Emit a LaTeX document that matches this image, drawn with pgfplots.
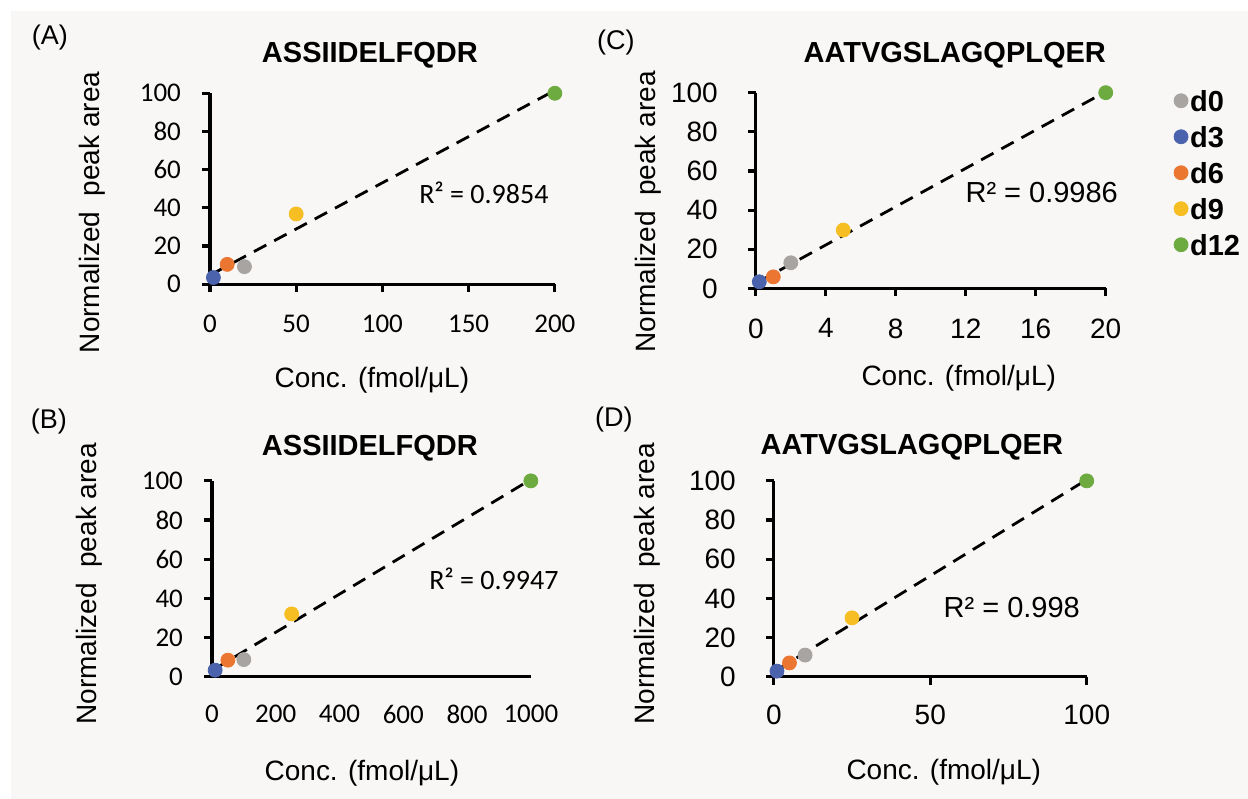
\documentclass[border=0pt]{standalone}
\usepackage{fontspec}
\setmainfont{Liberation Sans}
\newfontfamily\calibri{Carlito}
\usepackage{pgfplots}
\pgfplotsset{compat=1.18}
\definecolor{bg}{HTML}{F8F7F5}
\definecolor{cgray}{HTML}{A7A4A1}
\definecolor{cblue}{HTML}{4B63AC}
\definecolor{corange}{HTML}{EB7631}
\definecolor{cyellow}{HTML}{F6BE22}
\definecolor{cgreen}{HTML}{6DAA40}
\tikzset{tk/.style={black, line width=1.6pt}}
\pgfplotsset{
  every tick/.style={black, line width=1.6pt},
  every axis x line/.append style={line width=1.6pt},
  every axis y line/.append style={line width=1.6pt},
  panel/.style={
    scale only axis, anchor=south west,
    axis lines=left,
    xmin=0, ymin=0, ymax=100, ytick={0,20,...,100},
    clip=false,
    /pgf/number format/assume math mode=true,
    /pgf/number format/1000 sep={},
    yticklabel style={xshift=-7pt},
    axis line style={-, line width=1.6pt, black}, tick style={black, line width=1.6pt},
    major tick length=4pt, tick align=outside,
  },
  calib/.style={ticklabel style={font=\calibri\fontsize{13.5}{15}\selectfont}},
  arial/.style={ticklabel style={font=\fontsize{14}{16}\selectfont}},
  pt/.style={only marks, mark=*, mark size=3.5pt, mark options={fill=#1, draw=#1}, color=#1},
  trend/.style={black, line width=1.4pt, dash pattern=on 7pt off 4.5pt},
}
\newcommand\lab{\fontsize{14}{16}\selectfont}
\newcommand\ttl{\bfseries\fontsize{14.5}{17}\selectfont}
\newcommand\yl{Normalized\hspace{0.55em}peak area}
\newcommand\xl{Conc. (fmol/μL)}
\begin{document}
\begin{tikzpicture}
\fill[white] (0pt,0pt) rectangle (624pt,399.5pt);
\fill[bg] (5.5pt,0pt) rectangle (624pt,394pt);
% Panel A
\begin{axis}[panel, calib, at={(105pt,257.35pt)}, width=172.5pt, height=95.5pt,
  xmax=200, xtick={0,50,...,200}, xticklabel style={yshift=-8pt}]
\addplot[pt=cblue] coordinates {(2,3.5)};
\addplot[pt=corange] coordinates {(10,10.4)};
\addplot[pt=cgray] coordinates {(20,9.2)};
\addplot[pt=cyellow] coordinates {(50,36.8)};
\addplot[pt=cgreen] coordinates {(200,100)};
\addplot[trend] coordinates {(2,5.7) (200,101.5)};
\pgfplotsinvokeforeach{0,50,100,150,200}{\draw[tk] (axis cs:#1,0) -- ++(0pt,-4pt);}
\pgfplotsinvokeforeach{0,20,40,60,80,100}{\draw[tk] (axis cs:0,#1) -- ++(-4pt,0pt);}
\end{axis}
% Panel C
\begin{axis}[panel, arial, at={(378pt,255.25pt)}, width=175pt, height=97.9pt,
  xmax=20, xtick={0,4,...,20}, yticklabel style={xshift=-4.5pt},
  xticklabel style={yshift=-7.5pt},
  legend style={draw=none, fill=none, at={(1.177,1.045)}, anchor=north west,
    font=\bfseries\fontsize{14.5}{17}\selectfont, row sep=5.5pt,
    nodes={inner sep=1pt, text height=10.5pt, text depth=0pt}},
  legend cell align=left]
\addplot[pt=cgray] coordinates {(2,13.1)}; \addlegendentry{d0}
\addplot[pt=cblue] coordinates {(0.2,3.4)}; \addlegendentry{d3}
\addplot[pt=corange] coordinates {(1,5.9)}; \addlegendentry{d6}
\addplot[pt=cyellow] coordinates {(5,29.8)}; \addlegendentry{d9}
\addplot[pt=cgreen] coordinates {(20,100)}; \addlegendentry{d12}
\addplot[trend, forget plot] coordinates {(0.2,3.6) (20,100.5)};
\pgfplotsinvokeforeach{0,4,8,12,16,20}{\draw[tk] (axis cs:#1,0) -- ++(0pt,-4pt);}
\pgfplotsinvokeforeach{0,20,40,60,80,100}{\draw[tk] (axis cs:0,#1) -- ++(-4pt,0pt);}
\end{axis}
% Panel B
\begin{axis}[panel, calib, at={(106pt,61pt)}, width=159.5pt, height=98pt,
  xmax=1000, xtick={0,200,...,1000}, xticklabel style={yshift=-6.5pt},
  xtick style={draw=none}]
\addplot[pt=cblue] coordinates {(10,3.4)};
\addplot[pt=corange] coordinates {(50,8.5)};
\addplot[pt=cgray] coordinates {(100,8.8)};
\addplot[pt=cyellow] coordinates {(250,32.1)};
\addplot[pt=cgreen] coordinates {(1000,100)};
\addplot[trend] coordinates {(10,4.2) (1000,100.7)};
\pgfplotsinvokeforeach{0,20,40,60,80,100}{\draw[tk] (axis cs:0,#1) -- ++(-4pt,0pt);}
\end{axis}
% Panel D
\begin{axis}[panel, arial, at={(387pt,61pt)}, width=156.5pt, height=98pt,
  xmax=100, xtick={0,50,100}, yticklabel style={xshift=-4.5pt},
  xticklabel style={yshift=-6.5pt}]
\addplot[pt=cblue] coordinates {(1,2.9)};
\addplot[pt=corange] coordinates {(5,7.1)};
\addplot[pt=cgray] coordinates {(10,11.1)};
\addplot[pt=cyellow] coordinates {(25,30.1)};
\addplot[pt=cgreen] coordinates {(100,100)};
\addplot[trend] coordinates {(1,3.5) (100,100.6)};
\pgfplotsinvokeforeach{0,50,100}{\draw[tk] (axis cs:#1,0) -- ++(0pt,-4pt);}
\pgfplotsinvokeforeach{0,20,40,60,80,100}{\draw[tk] (axis cs:0,#1) -- ++(-4pt,0pt);}
\end{axis}
% titles
\node[font=\ttl] at (185pt,372pt) {ASSIIDELFQDR};
\node[font=\ttl] at (477.5pt,372pt) {AATVGSLAGQPLQER};
\node[font=\ttl] at (185pt,175.5pt) {ASSIIDELFQDR};
\node[font=\ttl] at (456pt,176pt) {AATVGSLAGQPLQER};
% panel letters
\node[font=\fontsize{13.5}{15}\selectfont] at (25pt,380.5pt) {(A)};
\node[font=\fontsize{13.5}{15}\selectfont] at (308pt,378pt) {(C)};
\node[font=\fontsize{13.5}{15}\selectfont] at (24.5pt,188.5pt) {(B)};
\node[font=\fontsize{13.5}{15}\selectfont] at (307pt,189.5pt) {(D)};
% y labels
\node[font=\lab, rotate=90] at (46pt,293.25pt) {\yl};
\node[font=\lab, rotate=90] at (324pt,293.5pt) {\yl};
\node[font=\lab, rotate=90] at (44.5pt,107.5pt) {\yl};
\node[font=\lab, rotate=90] at (323.5pt,107.5pt) {\yl};
% x labels
\node[font=\lab] at (186pt,209.5pt) {\xl};
\node[font=\lab] at (479.5pt,210.5pt) {\xl};
\node[font=\lab] at (181pt,13pt) {\xl};
\node[font=\lab] at (472pt,13.5pt) {\xl};
% R2
\node[font=\calibri\fontsize{14}{16}\selectfont] at (242pt,303pt) {R² = 0.9854};
\node[font=\fontsize{14.5}{16}\selectfont] at (521pt,303pt) {R² = 0.9986};
\node[font=\calibri\fontsize{14}{16}\selectfont] at (247pt,110pt) {R² = 0.9947};
\node[font=\fontsize{14.5}{16}\selectfont] at (506pt,95.5pt) {R² = 0.998};
\end{tikzpicture}
\end{document}
